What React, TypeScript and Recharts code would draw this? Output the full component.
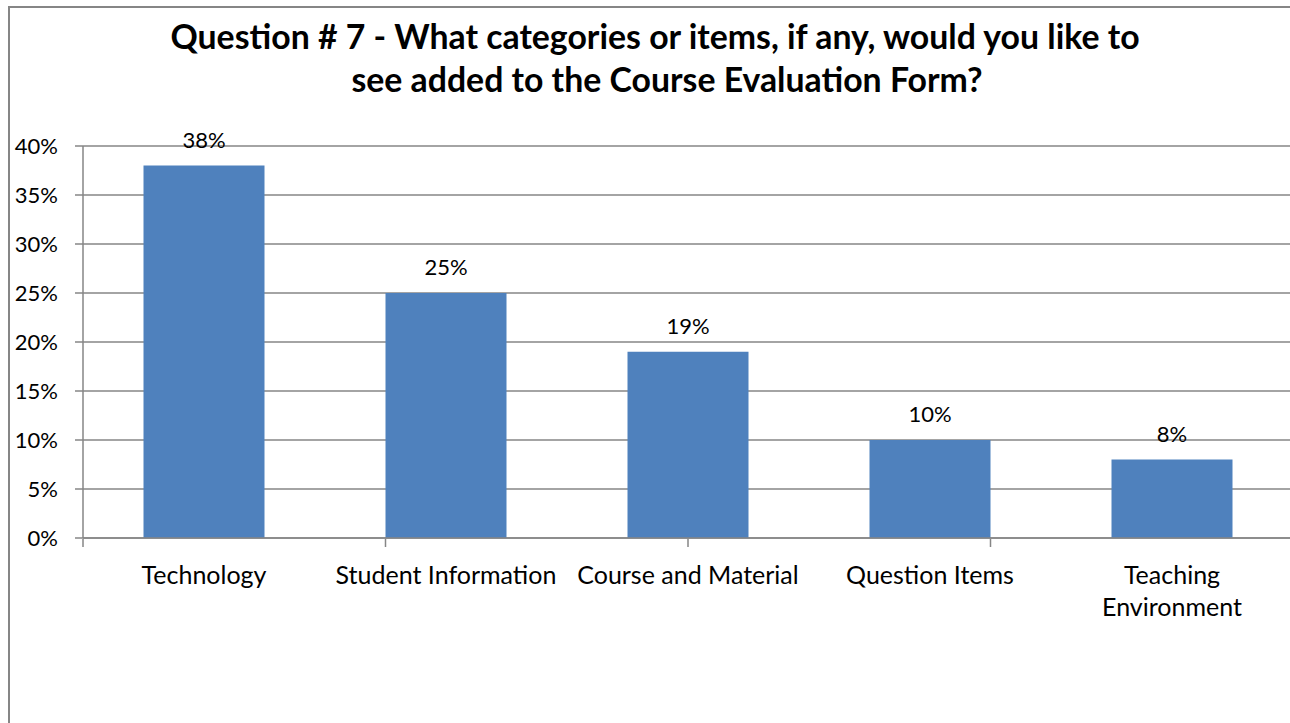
import { BarChart, Bar, XAxis, YAxis, CartesianGrid, LabelList } from 'recharts'

const TITLE_LINES = [
  'Question # 7 - What categories or items, if any, would you like to',
  'see added to the Course Evaluation Form?',
]
const CATEGORIES = ['Technology', 'Student Information', 'Course and Material', 'Question Items', 'Teaching Environment']
const PERCENTS = [38, 25, 19, 10, 8]
const Y_TICKS = [0, 5, 10, 15, 20, 25, 30, 35, 40]
const BAND_EDGES = [0, 1, 2, 3, 4, 5]

const FONT = 'Lato, "Open Sans", sans-serif'
const GRID = '#868686'
const BAR = '#4f81bd'
const TICK_FONT_SIZE = 25
const WRAP_WIDTH = 230

const data = CATEGORIES.map((name, i) => ({ name, value: PERCENTS[i] }))

let ctx: CanvasRenderingContext2D | null = null
function textWidth(s: string) {
  if (!ctx) ctx = document.createElement('canvas').getContext('2d')
  if (!ctx) return s.length * TICK_FONT_SIZE * 0.5
  ctx.font = `${TICK_FONT_SIZE}px ${FONT}`
  return ctx.measureText(s).width
}

// greedy word wrap, same as the spreadsheet does for long category names
function wrap(label: string) {
  const lines: string[] = []
  let cur = ''
  for (const w of label.split(' ')) {
    const next = cur ? `${cur} ${w}` : w
    if (cur && textWidth(next) > WRAP_WIDTH) {
      lines.push(cur)
      cur = w
    } else cur = next
  }
  if (cur) lines.push(cur)
  return lines
}

function CategoryTick(props: any) {
  const { x, y, payload } = props
  const lines = wrap(String(payload.value))
  return (
    <text x={x} y={y + 38} textAnchor="middle" style={{ fontFamily: FONT, fontSize: TICK_FONT_SIZE, fill: '#000' }}>
      {lines.map((l, i) => (
        <tspan key={i} x={x} dy={i === 0 ? 0 : 32}>{l}</tspan>
      ))}
    </text>
  )
}

export default function App() {
  return (
    <div style={{ position: 'absolute', left: 0, top: 0, width: 1290, height: 723, overflow: 'hidden', background: '#fff' }}>
      {/* chart frame, its right and bottom edges are cut off */}
      <div style={{ position: 'absolute', left: 8, top: 6, width: 1400, height: 800, border: `2px solid ${GRID}`, boxSizing: 'border-box' }} />

      <div style={{ position: 'absolute', left: 155, top: 15, width: 1000, textAlign: 'center', fontFamily: FONT, fontWeight: 700, fontSize: 33.8, lineHeight: '43px', color: '#000' }}>
        <div>{TITLE_LINES[0]}</div>
        <div style={{ paddingLeft: 24 }}>{TITLE_LINES[1]}</div>
      </div>

      <div style={{ position: 'absolute', left: 0, top: 0 }}>
        <BarChart width={1300} height={723} data={data} margin={{ top: 146, right: 7, bottom: 183, left: 0 }} barCategoryGap="25%">
          <CartesianGrid vertical={false} stroke={GRID} strokeWidth={1.5} />
          <XAxis
            dataKey="name"
            height={1}
            tickLine={false}
            axisLine={{ stroke: GRID, strokeWidth: 1.5 }}
            tick={(p: any) => <CategoryTick {...p} />}
            interval={0}
          />
          <XAxis
            xAxisId="edges"
            type="number"
            domain={[0, 5]}
            ticks={BAND_EDGES}
            height={1}
            tickFormatter={() => ''}
            tickSize={8}
            axisLine={false}
            tickLine={{ stroke: GRID, strokeWidth: 1.5 }}
          />
          <YAxis
            width={83}
            domain={[0, 40]}
            ticks={Y_TICKS}
            tickFormatter={(v: number) => `${v}%`}
            tickSize={8}
            tickMargin={17}
            axisLine={{ stroke: GRID, strokeWidth: 1.5 }}
            tickLine={{ stroke: GRID, strokeWidth: 1.5 }}
            tick={{ fontFamily: FONT, fontSize: 22, fill: '#000' }}
          />
          <Bar dataKey="value" fill={BAR} isAnimationActive={false}>
            <LabelList
              dataKey="value"
              position="top"
              offset={18}
              formatter={(v: any) => `${v}%`}
              style={{ fontFamily: FONT, fontSize: 22, fill: '#000' }}
            />
          </Bar>
        </BarChart>
      </div>
    </div>
  )
}
